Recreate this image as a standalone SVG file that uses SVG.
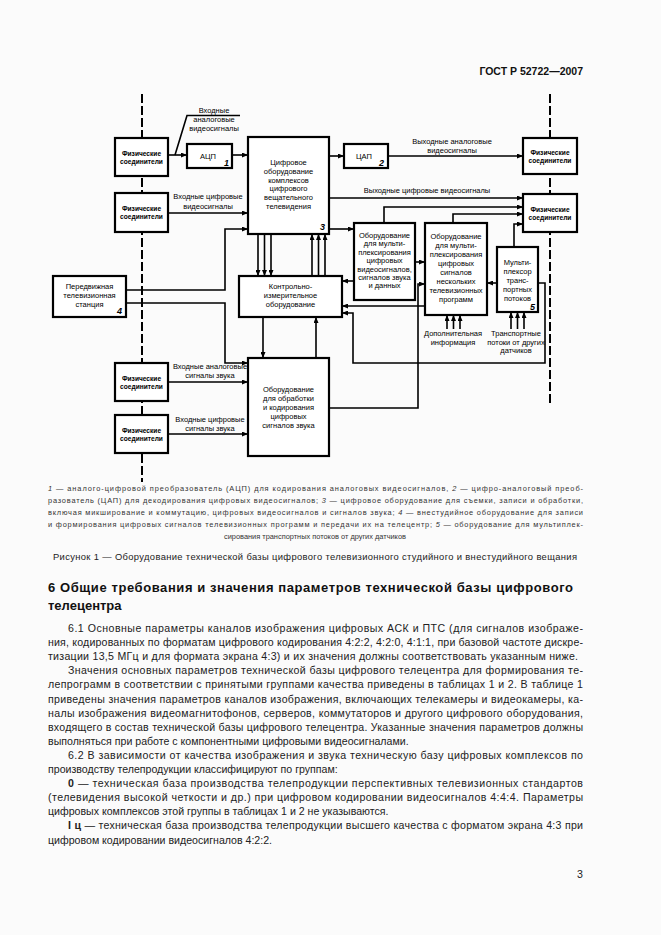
<svg xmlns="http://www.w3.org/2000/svg" width="661" height="935" viewBox="0 0 661 935">
<style>
.bx{fill:#fff;stroke:#000;stroke-width:2.2}
.ln{fill:none;stroke:#000;stroke-width:1.6}
.dash{fill:none;stroke:#000;stroke-width:2;stroke-dasharray:9 3}
.t{font-family:"Liberation Sans",Arial,sans-serif;font-size:7.5px;fill:#000;text-anchor:middle}
.pc{font-family:"Liberation Sans",Arial,sans-serif;font-size:6.6px;font-weight:bold;fill:#000;text-anchor:middle}
.num{font-family:"Liberation Sans",Arial,sans-serif;font-size:9px;font-weight:bold;font-style:italic;fill:#000}
.body{font-family:"Liberation Sans",Arial,sans-serif;font-size:10.6px;fill:#222}
.fn{font-family:"Liberation Sans",Arial,sans-serif;font-size:7.4px;fill:#333}
</style>
<defs>
<marker id="ar" markerUnits="userSpaceOnUse" markerWidth="6" markerHeight="5" refX="6" refY="2.5" orient="auto">
<path d="M0,0 L6,2.5 L0,5 z" fill="#000"/>
</marker>
</defs>
<rect width="661" height="935" fill="#fbfbfb"/>
<text x="583" y="75" font-family="Liberation Sans, Arial, sans-serif" font-size="10.5" font-weight="bold" text-anchor="end" fill="#111">ГОСТ Р 52722—2007</text>

<g id="borders">
<path class="dash" d="M142,94 V482"/>
<path class="dash" d="M550,94 V403"/>
</g>

<g id="connectors" class="ln">
<path d="M240,115.5 H187 L175,155"/>
<path d="M168,155 H187" marker-end="url(#ar)"/>
<path d="M232,155 H248" marker-end="url(#ar)"/>
<path d="M168,213 H248" marker-end="url(#ar)"/>
<path d="M126,290 H225 V229 H248" marker-end="url(#ar)"/>
<path d="M126,303 H225 V363 H248" marker-end="url(#ar)"/>
<path d="M329,156 H344" marker-end="url(#ar)"/>
<path d="M388,156 H523" marker-end="url(#ar)"/>
<path d="M329,198 H523" marker-end="url(#ar)"/>
<path d="M384,223 V207 H523" marker-end="url(#ar)"/>
<path d="M453,223 V214 H523" marker-end="url(#ar)"/>
<path d="M514,247 V224 H523" marker-end="url(#ar)"/>
<path d="M329,229 H354" marker-end="url(#ar)"/>
<path d="M258,234 V276" marker-end="url(#ar)"/>
<path d="M264.5,234 V276" marker-end="url(#ar)"/>
<path d="M271,234 V276" marker-end="url(#ar)"/>
<path d="M312,276 V234" marker-end="url(#ar)"/>
<path d="M318.5,276 V234" marker-end="url(#ar)"/>
<path d="M325,276 V234" marker-end="url(#ar)"/>
<path d="M354,281 H342" marker-end="url(#ar)"/>
<path d="M415,262 H425" marker-end="url(#ar)"/>
<path d="M497,283 H487" marker-end="url(#ar)"/>
<path d="M329,408 H418 V284 H425" marker-end="url(#ar)"/>
<path d="M425,306 H342" marker-end="url(#ar)"/>
<path d="M538,283 H545 V363 H353 V313 H342" marker-end="url(#ar)"/>
<path d="M263,317 V358" marker-end="url(#ar)"/>
<path d="M316,358 V317" marker-end="url(#ar)"/>
<path d="M168,382 H248" marker-end="url(#ar)"/>
<path d="M168,434 H248" marker-end="url(#ar)"/>
<path d="M447,329 V315" marker-end="url(#ar)"/>
<path d="M453.5,329 V315" marker-end="url(#ar)"/>
<path d="M460,329 V315" marker-end="url(#ar)"/>
<path d="M511,329 V312" marker-end="url(#ar)"/>
<path d="M517.5,329 V312" marker-end="url(#ar)"/>
<path d="M524,329 V312" marker-end="url(#ar)"/>
</g>

<g id="labels">
<text class="t"><tspan x="214" y="113">Входные</tspan><tspan x="214" y="122">аналоговые</tspan><tspan x="214" y="130.5">видеосигналы</tspan></text>
<text class="t"><tspan x="208" y="199">Входные цифровые</tspan><tspan x="208" y="209">видеосигналы</tspan></text>
<text class="t"><tspan x="452" y="144">Выходные аналоговые</tspan><tspan x="452" y="152.5">видеосигналы</tspan></text>
<text class="t" x="427" y="193">Выходные цифровые видеосигналы</text>
<text class="t"><tspan x="210" y="369">Входные аналоговые</tspan><tspan x="210" y="378">сигналы звука</tspan></text>
<text class="t"><tspan x="210" y="422">Входные цифровые</tspan><tspan x="210" y="431">сигналы звука</tspan></text>
<text class="t"><tspan x="453" y="336">Дополнительная</tspan><tspan x="453" y="344.5">информация</tspan></text>
<text class="t"><tspan x="516" y="336">Транспортные</tspan><tspan x="516" y="344.5">потоки от других</tspan><tspan x="516" y="353">датчиков</tspan></text>
</g>

<g id="pc1"><rect class="bx" x="115" y="138" width="53" height="38"/><text class="pc"><tspan x="141.5" y="156">Физические</tspan><tspan x="141.5" y="164">соединители</tspan></text></g>
<g id="pc2"><rect class="bx" x="115" y="193" width="53" height="39"/><text class="pc"><tspan x="141.5" y="211">Физические</tspan><tspan x="141.5" y="219">соединители</tspan></text></g>
<g id="pc3"><rect class="bx" x="115" y="363" width="53" height="38"/><text class="pc"><tspan x="141.5" y="381">Физические</tspan><tspan x="141.5" y="389">соединители</tspan></text></g>
<g id="pc4"><rect class="bx" x="115" y="415" width="53" height="38"/><text class="pc"><tspan x="141.5" y="433">Физические</tspan><tspan x="141.5" y="441">соединители</tspan></text></g>
<g id="pcr1"><rect class="bx" x="523" y="138" width="54" height="36"/><text class="pc"><tspan x="550" y="155">Физические</tspan><tspan x="550" y="163">соединители</tspan></text></g>
<g id="pcr2"><rect class="bx" x="523" y="194" width="54" height="38"/><text class="pc"><tspan x="550" y="212">Физические</tspan><tspan x="550" y="220">соединители</tspan></text></g>

<g id="adc"><rect class="bx" x="187" y="144" width="45" height="24"/><text class="t" x="208" y="159" font-size="8">АЦП</text><text class="num" x="224" y="166">1</text></g>
<g id="dac"><rect class="bx" x="344" y="144" width="44" height="24"/><text class="t" x="364" y="159" font-size="8">ЦАП</text><text class="num" x="379" y="166">2</text></g>

<g id="central"><rect class="bx" x="248" y="137" width="81" height="97"/>
<text class="t"><tspan x="288.5" y="165">Цифровое</tspan><tspan x="288.5" y="173.8">оборудование</tspan><tspan x="288.5" y="182.6">комплексов</tspan><tspan x="288.5" y="191.4">цифрового</tspan><tspan x="288.5" y="200.2">вещательного</tspan><tspan x="288.5" y="209">телевидения</tspan></text>
<text class="num" x="320" y="230">3</text></g>

<g id="mux1"><rect class="bx" x="354" y="223" width="61" height="77"/>
<text class="t"><tspan x="384.5" y="238">Оборудование</tspan><tspan x="384.5" y="246.4">для мульти-</tspan><tspan x="384.5" y="254.8">плексирования</tspan><tspan x="384.5" y="263.2">цифровых</tspan><tspan x="384.5" y="271.6">видеосигналов,</tspan><tspan x="384.5" y="280">сигналов звука</tspan><tspan x="384.5" y="288.4">и данных</tspan></text></g>

<g id="mux2"><rect class="bx" x="425" y="223" width="62" height="92"/>
<text class="t"><tspan x="456" y="239">Оборудование</tspan><tspan x="456" y="248">для мульти-</tspan><tspan x="456" y="257">плексирования</tspan><tspan x="456" y="266">цифровых</tspan><tspan x="456" y="275">сигналов</tspan><tspan x="456" y="284">нескольких</tspan><tspan x="456" y="293">телевизионных</tspan><tspan x="456" y="302">программ</tspan></text></g>

<g id="mux3"><rect class="bx" x="497" y="247" width="41" height="65"/>
<text class="t"><tspan x="517.5" y="265">Мульти-</tspan><tspan x="517.5" y="274">плексор</tspan><tspan x="517.5" y="283">транс-</tspan><tspan x="517.5" y="292">портных</tspan><tspan x="517.5" y="301">потоков</tspan></text>
<text class="num" x="530" y="310">5</text></g>

<g id="kio"><rect class="bx" x="239" y="276" width="103" height="41"/>
<text class="t"><tspan x="290.5" y="289">Контрольно-</tspan><tspan x="290.5" y="298">измерительное</tspan><tspan x="290.5" y="307">оборудование</tspan></text></g>

<g id="pts"><rect class="bx" x="53" y="276" width="73" height="41"/>
<text class="t"><tspan x="89.5" y="289">Передвижная</tspan><tspan x="89.5" y="298">телевизионная</tspan><tspan x="89.5" y="307">станция</tspan></text>
<text class="num" x="117" y="314">4</text></g>

<g id="sound"><rect class="bx" x="248" y="358" width="81" height="98"/>
<text class="t"><tspan x="288.5" y="392">Оборудование</tspan><tspan x="288.5" y="401">для обработки</tspan><tspan x="288.5" y="410">и кодирования</tspan><tspan x="288.5" y="419">цифровых</tspan><tspan x="288.5" y="427.5">сигналов звука</tspan></text></g>

<g id="footnote">
<text class="fn" x="48" y="490.5" textLength="535" lengthAdjust="spacing"><tspan font-style="italic">1</tspan> — аналого-цифровой преобразователь (АЦП) для кодирования аналоговых видеосигналов, <tspan font-style="italic">2</tspan> — цифро-аналоговый преоб-</text>
<text class="fn" x="48" y="502.5" textLength="535" lengthAdjust="spacing">разователь (ЦАП) для декодирования цифровых видеосигналов; <tspan font-style="italic">3</tspan> — цифровое оборудование для съемки, записи и обработки,</text>
<text class="fn" x="48" y="514.5" textLength="535" lengthAdjust="spacing">включая микширование и коммутацию, цифровых видеосигналов и сигналов звука; <tspan font-style="italic">4</tspan> — внестудийное оборудование для записи</text>
<text class="fn" x="48" y="526.5" textLength="535" lengthAdjust="spacing">и формирования цифровых сигналов телевизионных программ и передачи их на телецентр; <tspan font-style="italic">5</tspan> — оборудование для мультиплек-</text>
<text class="fn" x="315" y="538.5" text-anchor="middle">сирования транспортных потоков от других датчиков</text>
</g>
<text x="53" y="560" font-family="Liberation Sans, Arial, sans-serif" font-size="9.4" fill="#222" textLength="524" lengthAdjust="spacing">Рисунок 1 — Оборудование технической базы цифрового телевизионного студийного и внестудийного вещания</text>

<g id="section" font-family="Liberation Sans, Arial, sans-serif">
<text x="48" y="592" font-size="13" font-weight="bold" fill="#111" textLength="525" lengthAdjust="spacing">6  Общие требования и значения параметров технической базы цифрового</text>
<text x="48" y="610" font-size="13" font-weight="bold" fill="#111">телецентра</text>
<text class="body" x="68" y="632" textLength="515" lengthAdjust="spacing">6.1 Основные параметры каналов изображения цифровых АСК и ПТС (для сигналов изображе-</text>
<text class="body" x="48" y="646.1" textLength="535" lengthAdjust="spacing">ния, кодированных по форматам цифрового кодирования 4:2:2, 4:2:0, 4:1:1, при базовой частоте дискре-</text>
<text class="body" x="48" y="660.2" textLength="530" lengthAdjust="spacing">тизации 13,5 МГц и для формата экрана 4:3) и их значения должны соответствовать указанным ниже.</text>
<text class="body" x="68" y="674.3" textLength="515" lengthAdjust="spacing">Значения основных параметров технической базы цифрового телецентра для формирования те-</text>
<text class="body" x="48" y="688.4" textLength="535" lengthAdjust="spacing">лепрограмм в соответствии с принятыми группами качества приведены в таблицах 1 и 2. В таблице 1</text>
<text class="body" x="48" y="702.5" textLength="535" lengthAdjust="spacing">приведены значения параметров каналов изображения, включающих телекамеры и видеокамеры, ка-</text>
<text class="body" x="48" y="716.6" textLength="535" lengthAdjust="spacing">налы изображения видеомагнитофонов, серверов, коммутаторов и другого цифрового оборудования,</text>
<text class="body" x="48" y="730.7" textLength="535" lengthAdjust="spacing">входящего в состав технической базы цифрового телецентра. Указанные значения параметров должны</text>
<text class="body" x="48" y="744.8">выполняться при работе с компонентными цифровыми видеосигналами.</text>
<text class="body" x="68" y="758.9" textLength="515" lengthAdjust="spacing">6.2 В зависимости от качества изображения и звука техническую базу цифровых комплексов по</text>
<text class="body" x="48" y="773">производству телепродукции классифицируют по группам:</text>
<text class="body" x="68" y="787.1" textLength="515" lengthAdjust="spacing"><tspan font-weight="bold">0</tspan> — техническая база производства телепродукции перспективных телевизионных стандартов</text>
<text class="body" x="48" y="801.2" textLength="535" lengthAdjust="spacing">(телевидения высокой четкости и др.) при цифровом кодировании видеосигналов 4:4:4. Параметры</text>
<text class="body" x="48" y="815.3">цифровых комплексов этой группы в таблицах 1 и 2 не указываются.</text>
<text class="body" x="68" y="829.4" textLength="515" lengthAdjust="spacing"><tspan font-weight="bold">I ц</tspan> — техническая база производства телепродукции высшего качества с форматом экрана 4:3 при</text>
<text class="body" x="48" y="843.5">цифровом кодировании видеосигналов 4:2:2.</text>
<text class="body" x="583" y="878" text-anchor="end">3</text>
</g>
</svg>
